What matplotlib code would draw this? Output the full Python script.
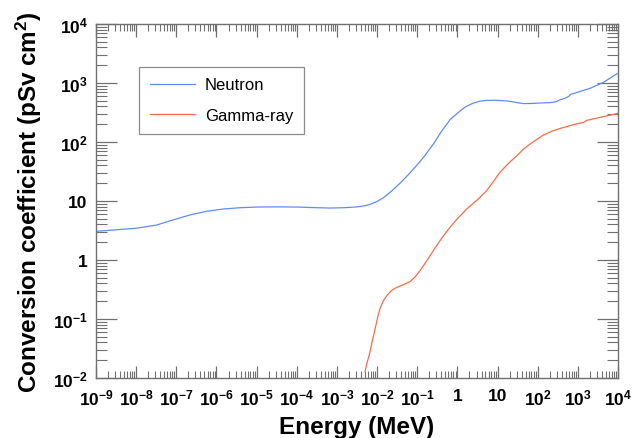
import numpy as np
import matplotlib
matplotlib.use('Agg')
import matplotlib.pyplot as plt
from matplotlib.ticker import FixedLocator, LogLocator, NullFormatter

# Neutron conversion coefficients (pSv cm2), read at log10(E / MeV)
n_logE = [-9.0, -8.5, -8.0, -7.5, -7.07, -6.66, -6.24, -5.84, -5.41, -5.0, -4.5, -4.0,
          -3.5, -3.17, -2.8, -2.5, -2.3, -2.15, -2.0, -1.84, -1.65, -1.43, -1.22, -1.0, -0.8,
          -0.6, -0.4, -0.18, 0.066, 0.2, 0.39, 0.55, 0.73, 0.95, 1.23,
          1.45, 1.64, 1.85, 2.06, 2.31, 2.45, 2.56, 2.66, 2.77, 2.82, 3.0, 3.3, 3.63,
          3.95, 4.0]
n_H = [3.06, 3.25, 3.45, 3.9, 4.8, 5.8, 6.7, 7.3, 7.7, 7.9, 7.95, 7.9,
       7.7, 7.6, 7.7, 7.95, 8.3, 8.9, 9.8, 11.4, 14.5, 20.0, 28.0, 41.0, 60.0,
       92.0, 150.0, 240.0, 335.0, 395.0, 455.0, 490.0, 507.0, 510.0, 497.0,
       470.0, 448.0, 450.0, 458.0, 465.0, 480.0, 520.0, 545.0, 590.0, 640.0, 700.0, 810.0, 1020.0,
       1400.0, 1450.0]

# Gamma-ray conversion coefficients (pSv cm2), read at log10(E / MeV)
g_logE = [-2.30, -2.25, -2.18, -2.12, -2.05, -1.98, -1.93, -1.85, -1.76, -1.65, -1.51,
          -1.35, -1.18, -1.05, -0.93, -0.77, -0.60, -0.40, -0.18, 0.0, 0.23, 0.5, 0.73,
          0.9, 1.06, 1.25, 1.48, 1.65, 1.81, 2.0, 2.14, 2.35, 2.56, 2.85, 3.0, 3.14,
          3.22, 3.4, 3.55, 3.8, 4.0]
g_H = [0.0128, 0.018, 0.027, 0.042, 0.068, 0.11, 0.148, 0.20, 0.248, 0.30, 0.344,
       0.38, 0.43, 0.52, 0.66, 0.95, 1.44, 2.3, 3.6, 5.0, 7.3, 10.5, 15.0,
       21.5, 30.6, 42.0, 58.6, 76.0, 92.5, 113.0, 131.0, 152.0, 170.0, 193.0, 205.0, 214.0,
       232.0, 248.0, 261.0, 285.0, 306.0]

x_ticks = [10.0**k for k in range(-9, 5)]
x_labels = [r'$10^{%d}$' % k for k in range(-9, 0)] + ['1', '10'] + [r'$10^{%d}$' % k for k in range(2, 5)]
y_ticks = [10.0**k for k in range(-2, 5)]
y_labels = [r'$10^{-2}$', r'$10^{-1}$', '1', '10', r'$10^{2}$', r'$10^{3}$', r'$10^{4}$']

plt.rcParams['font.family'] = ['Liberation Sans', 'DejaVu Sans']
plt.rcParams['mathtext.fontset'] = 'custom'
plt.rcParams['mathtext.rm'] = 'Liberation Sans:bold'
plt.rcParams['mathtext.it'] = 'Liberation Sans:bold'
plt.rcParams['mathtext.bf'] = 'Liberation Sans:bold'

frame = '#707070'

fig = plt.figure(figsize=(6.32, 4.39), dpi=100)
ax = fig.add_axes([96/632, 60/439, 522/632, 354/439])

ax.plot(10.0**np.array(n_logE), n_H, color='#5f8bf8', lw=0.9, label='Neutron')
ax.plot(10.0**np.array(g_logE), g_H, color='#fa6a48', lw=0.9, label='Gamma-ray')

ax.set_xscale('log')
ax.set_yscale('log')
ax.set_xlim(1e-9, 1e4)
ax.set_ylim(1e-2, 1e4)

ax.xaxis.set_major_locator(FixedLocator(x_ticks))
ax.set_xticklabels(x_labels)
ax.yaxis.set_major_locator(FixedLocator(y_ticks))
ax.set_yticklabels(y_labels)
ax.xaxis.set_minor_locator(LogLocator(base=10, subs=np.arange(2, 10), numticks=100))
ax.yaxis.set_minor_locator(LogLocator(base=10, subs=np.arange(2, 10), numticks=100))
ax.xaxis.set_minor_formatter(NullFormatter())
ax.yaxis.set_minor_formatter(NullFormatter())

for lbl in ax.get_xticklabels() + ax.get_yticklabels():
    lbl.set_fontweight('bold')
    lbl.set_fontsize(12.5)

ax.tick_params(axis='x', which='major', direction='in', length=9, width=0.9, color=frame,
               top=True, pad=7, labelcolor='black')
ax.tick_params(axis='x', which='minor', direction='in', length=5, width=0.8, color=frame, top=True)
ax.tick_params(axis='y', which='major', direction='in', length=15, width=0.9, color=frame,
               right=True, pad=6, labelcolor='black')
ax.tick_params(axis='y', which='minor', direction='in', length=8, width=0.8, color=frame, right=True)
for sp in ax.spines.values():
    sp.set_color(frame)
    sp.set_linewidth(1.0)

ax.set_xlabel('Energy (MeV)', fontsize=17.5, fontweight='bold', labelpad=5)
ax.set_ylabel(r'Conversion coefficient (pSv cm$^{2}$)', fontsize=17.5, fontweight='bold', labelpad=6)

leg = ax.legend(loc='upper left', bbox_to_anchor=((139 - 96)/522, (379 - 67.5)/354),
                fontsize=12, frameon=True, fancybox=False, handlelength=2.7,
                handletextpad=0.6, labelspacing=0.95, borderpad=0.65, borderaxespad=0)
leg.get_frame().set_edgecolor(frame)
leg.get_frame().set_linewidth(0.9)

fig.savefig('out.png', dpi=100)
